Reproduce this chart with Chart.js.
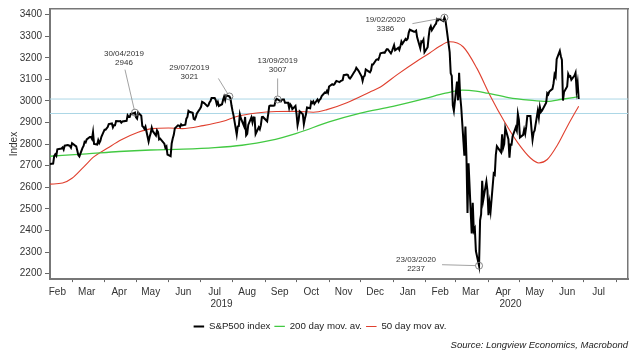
<!DOCTYPE html>
<html><head><meta charset="utf-8">
<script src="https://cdn.jsdelivr.net/npm/chart.js@4/dist/chart.umd.min.js"></script>
<style>html,body{margin:0;padding:0;background:#fff}#wrap{width:640px;height:360px}</style>
</head><body><div id="wrap"><canvas id="c" width="640" height="360"></canvas></div>
<script>
// ---------------- data ----------------
const spxDates = [
'2019-02-08','2019-02-11','2019-02-12','2019-02-13','2019-02-14','2019-02-15','2019-02-19','2019-02-20','2019-02-21','2019-02-22','2019-02-25','2019-02-26','2019-02-27','2019-02-28',
'2019-03-01','2019-03-04','2019-03-05','2019-03-06','2019-03-07','2019-03-08','2019-03-11','2019-03-12','2019-03-13','2019-03-14','2019-03-15','2019-03-18','2019-03-19','2019-03-20','2019-03-21','2019-03-22','2019-03-25','2019-03-26','2019-03-27','2019-03-28','2019-03-29',
'2019-04-01','2019-04-02','2019-04-03','2019-04-04','2019-04-05','2019-04-08','2019-04-09','2019-04-10','2019-04-11','2019-04-12','2019-04-15','2019-04-16','2019-04-17','2019-04-18','2019-04-22','2019-04-23','2019-04-24','2019-04-25','2019-04-26','2019-04-29','2019-04-30',
'2019-05-01','2019-05-02','2019-05-03','2019-05-06','2019-05-07','2019-05-08','2019-05-09','2019-05-10','2019-05-13','2019-05-14','2019-05-15','2019-05-16','2019-05-17','2019-05-20','2019-05-21','2019-05-22','2019-05-23','2019-05-24','2019-05-28','2019-05-29','2019-05-30','2019-05-31',
'2019-06-03','2019-06-04','2019-06-05','2019-06-06','2019-06-07','2019-06-10','2019-06-11','2019-06-12','2019-06-13','2019-06-14','2019-06-17','2019-06-18','2019-06-19','2019-06-20','2019-06-21','2019-06-24','2019-06-25','2019-06-26','2019-06-27','2019-06-28',
'2019-07-01','2019-07-02','2019-07-03','2019-07-05','2019-07-08','2019-07-09','2019-07-10','2019-07-11','2019-07-12','2019-07-15','2019-07-16','2019-07-17','2019-07-18','2019-07-19','2019-07-22','2019-07-23','2019-07-24','2019-07-25','2019-07-26','2019-07-29','2019-07-30','2019-07-31',
'2019-08-01','2019-08-02','2019-08-05','2019-08-06','2019-08-07','2019-08-08','2019-08-09','2019-08-12','2019-08-13','2019-08-14','2019-08-15','2019-08-16','2019-08-19','2019-08-20','2019-08-21','2019-08-22','2019-08-23','2019-08-26','2019-08-27','2019-08-28','2019-08-29','2019-08-30',
'2019-09-03','2019-09-04','2019-09-05','2019-09-06','2019-09-09','2019-09-10','2019-09-11','2019-09-12','2019-09-13','2019-09-16','2019-09-17','2019-09-18','2019-09-19','2019-09-20','2019-09-23','2019-09-24','2019-09-25','2019-09-26','2019-09-27','2019-09-30',
'2019-10-01','2019-10-02','2019-10-03','2019-10-04','2019-10-07','2019-10-08','2019-10-09','2019-10-10','2019-10-11','2019-10-14','2019-10-15','2019-10-16','2019-10-17','2019-10-18','2019-10-21','2019-10-22','2019-10-23','2019-10-24','2019-10-25','2019-10-28','2019-10-29','2019-10-30','2019-10-31',
'2019-11-01','2019-11-04','2019-11-05','2019-11-06','2019-11-07','2019-11-08','2019-11-11','2019-11-12','2019-11-13','2019-11-14','2019-11-15','2019-11-18','2019-11-19','2019-11-20','2019-11-21','2019-11-22','2019-11-25','2019-11-26','2019-11-27','2019-11-29',
'2019-12-02','2019-12-03','2019-12-04','2019-12-05','2019-12-06','2019-12-09','2019-12-10','2019-12-11','2019-12-12','2019-12-13','2019-12-16','2019-12-17','2019-12-18','2019-12-19','2019-12-20','2019-12-23','2019-12-24','2019-12-26','2019-12-27','2019-12-30','2019-12-31',
'2020-01-02','2020-01-03','2020-01-06','2020-01-07','2020-01-08','2020-01-09','2020-01-10','2020-01-13','2020-01-14','2020-01-15','2020-01-16','2020-01-17','2020-01-21','2020-01-22','2020-01-23','2020-01-24','2020-01-27','2020-01-28','2020-01-29','2020-01-30','2020-01-31',
'2020-02-03','2020-02-04','2020-02-05','2020-02-06','2020-02-07','2020-02-10','2020-02-11','2020-02-12','2020-02-13','2020-02-14','2020-02-18','2020-02-19','2020-02-20','2020-02-21','2020-02-24','2020-02-25','2020-02-26','2020-02-27','2020-02-28',
'2020-03-02','2020-03-03','2020-03-04','2020-03-05','2020-03-06','2020-03-09','2020-03-10','2020-03-11','2020-03-12','2020-03-13','2020-03-16','2020-03-17','2020-03-18','2020-03-19','2020-03-20','2020-03-23','2020-03-24','2020-03-25','2020-03-26','2020-03-27','2020-03-30','2020-03-31',
'2020-04-01','2020-04-02','2020-04-03','2020-04-06','2020-04-07','2020-04-08','2020-04-09','2020-04-13','2020-04-14','2020-04-15','2020-04-16','2020-04-17','2020-04-20','2020-04-21','2020-04-22','2020-04-23','2020-04-24','2020-04-27','2020-04-28','2020-04-29','2020-04-30',
'2020-05-01','2020-05-04','2020-05-05','2020-05-06','2020-05-07','2020-05-08','2020-05-11','2020-05-12','2020-05-13','2020-05-14','2020-05-15','2020-05-18','2020-05-19','2020-05-20','2020-05-21','2020-05-22','2020-05-26','2020-05-27','2020-05-28','2020-05-29',
'2020-06-01','2020-06-02','2020-06-03','2020-06-04','2020-06-05','2020-06-08','2020-06-09','2020-06-10','2020-06-11','2020-06-12','2020-06-15','2020-06-16','2020-06-17','2020-06-18','2020-06-19','2020-06-22','2020-06-23','2020-06-24','2020-06-25','2020-06-26'
];
const spxValues = [
2708,2710,2745,2753,2746,2776,2780,2785,2775,2793,2796,2794,2792,2784,
2804,2793,2790,2771,2749,2743,2783,2792,2811,2808,2822,2833,2833,2824,2855,2801,2798,2818,2805,2815,2834,
2867,2867,2873,2879,2893,2896,2878,2888,2888,2907,2906,2907,2900,2905,2908,2934,2927,2926,2940,2943,2946,
2924,2918,2946,2932,2884,2879,2871,2881,2812,2834,2851,2876,2860,2840,2864,2856,2822,2826,2802,2783,2789,2752,
2744,2803,2826,2843,2873,2887,2886,2880,2892,2887,2890,2918,2926,2954,2950,2945,2917,2914,2925,2942,
2964,2973,2996,2990,2976,2980,2993,3000,3014,3014,3004,2984,2995,2977,2985,3005,3020,3004,3026,3021,3013,2980,
2954,2932,2845,2882,2884,2938,2919,2883,2926,2841,2848,2889,2924,2901,2924,2923,2847,2878,2869,2888,2925,2926,
2906,2938,2976,2979,2978,2979,3001,3010,3007,2998,3006,3007,3007,2992,2992,2967,2985,2978,2962,2977,
2940,2888,2911,2952,2939,2893,2919,2938,2970,2966,2996,2990,2998,2986,3007,2996,3005,3010,3023,3039,3037,3047,3038,
3067,3078,3075,3077,3085,3093,3087,3092,3094,3097,3120,3122,3120,3108,3104,3110,3134,3141,3154,3141,
3114,3093,3113,3117,3146,3136,3133,3142,3169,3169,3191,3193,3191,3205,3221,3224,3223,3240,3240,3221,3231,
3258,3235,3246,3237,3253,3275,3265,3288,3283,3289,3317,3330,3321,3322,3326,3295,3244,3276,3273,3284,3226,
3249,3298,3335,3346,3328,3352,3358,3379,3374,3380,3370,3386,3373,3338,3226,3128,3116,2979,2954,
3090,3003,3130,3024,2972,2747,2882,2741,2481,2711,2386,2529,2398,2409,2305,2237,2447,2476,2630,2541,2627,2585,
2471,2527,2489,2664,2659,2750,2790,2762,2846,2783,2800,2875,2823,2737,2799,2798,2837,2878,2863,2940,2912,
2831,2843,2868,2848,2881,2930,2930,2870,2820,2853,2864,2954,2923,2972,2949,2955,2992,3036,3030,3044,
3056,3081,3123,3112,3194,3232,3207,3190,3002,3041,3067,3125,3113,3115,3098,3118,3131,3050,3084,3009
];
const ma200Dates = ['2019-02-08','2019-03-15','2019-04-15','2019-05-15','2019-06-15','2019-07-15','2019-08-10','2019-09-05','2019-10-01','2019-11-01','2019-12-01','2020-01-01','2020-02-01','2020-02-20','2020-03-07','2020-03-20','2020-03-31','2020-04-20','2020-05-10','2020-05-27','2020-06-10','2020-06-26'];
const ma200Values = [2744,2755,2766,2773,2777,2784,2795,2816,2850,2903,2944,2975,3012,3036,3050,3046,3036,3016,3004,2998,3008,3020];
const ma50Dates = ['2019-02-08','2019-02-20','2019-03-01','2019-03-12','2019-03-22','2019-04-04','2019-04-17','2019-05-03','2019-05-16','2019-06-01','2019-06-14','2019-07-04','2019-07-23','2019-08-05','2019-08-24','2019-09-12','2019-10-01','2019-10-17','2019-10-30','2019-11-18','2019-12-10','2019-12-20','2020-01-05','2020-01-24','2020-02-05','2020-02-14','2020-02-24','2020-03-08','2020-03-21','2020-04-03','2020-04-16','2020-04-29','2020-05-11','2020-05-19','2020-05-27','2020-06-06','2020-06-16','2020-06-26'];
const ma50Values = [2615,2620,2642,2694,2742,2782,2820,2855,2872,2875,2872,2886,2906,2928,2944,2951,2952,2948,2960,2992,3042,3065,3122,3185,3222,3252,3274,3250,3151,3021,2906,2806,2736,2713,2729,2798,2890,2976];
const refLevels = [3009, 2942];
const annDates = ['2019-04-30','2019-07-29','2019-09-13','2020-02-19','2020-03-23'];
const annValues = [2946, 3021, 3007, 3386, 2237];
const annTexts = [['30/04/2019','2946'],['29/07/2019','3021'],['13/09/2019','3007'],['19/02/2020','3386'],['23/03/2020','2237']];
const yTicks = [2200,2300,2400,2500,2600,2700,2800,2900,3000,3100,3200,3300,3400];
const labelMonths = ['2019-02','2019-03','2019-04','2019-05','2019-06','2019-07','2019-08','2019-09','2019-10','2019-11','2019-12','2020-01','2020-02','2020-03','2020-04','2020-05','2020-06','2020-07'];
const monthLabels = ['Feb','Mar','Apr','May','Jun','Jul','Aug','Sep','Oct','Nov','Dec','Jan','Feb','Mar','Apr','May','Jun','Jul'];
const tickMonths = ['2019-03','2019-04','2019-05','2019-06','2019-07','2019-08','2019-09','2019-10','2019-11','2019-12','2020-01','2020-02','2020-03','2020-04','2020-05','2020-06','2020-07','2020-08'];
const yearLabels = ['2019','2020'];
const xRange = ['2019-02-08','2020-08-12'];
const yRange = [2175, 3426];
const seriesNames = ['S&P500 index','200 day mov. av.','50 day mov av.'];

// ---------------- helpers ----------------
const day = s => { const p = s.split('-').map(Number); return Date.UTC(p[0], p[1]-1, p[2] || 1) / 86400000; };
const pts = (ds, vs) => ds.map((d, i) => ({x: day(d), y: vs[i]}));
const xMin = day(xRange[0]), xMax = day(xRange[1]);
const yearBoundary = day('2020-01-01');
const midTicks = labelMonths.map((m, i) => ({value: day(m + '-15'), label: monthLabels[i]}));
const yearTicks = [ {value: (xMin + yearBoundary) / 2, label: ['', yearLabels[0]]},
                    {value: (yearBoundary + xMax) / 2, label: ['', yearLabels[1]]} ];
const labelTicks = midTicks.concat(yearTicks);

const annLayout = [
  {tx:-11, ty:-59, lx:-10, ly:-43},
  {tx:-40, ty:-29, lx:-11, ly:-18},
  {tx:0,   ty:-39, lx:0,   ly:-21},
  {tx:-59, ty:2,   lx:-32, ly:6},
  {tx:-63, ty:-6,  lx:-37, ly:-1}
];

const FONT = "'Liberation Sans', Arial, Helvetica, sans-serif";
Chart.defaults.font.family = FONT;
Chart.defaults.font.size = 10;
Chart.defaults.color = '#333';

const AXIS_COLOR = '#777';

const annotationPlugin = {
  id: 'callouts',
  afterDatasetsDraw(chart) {
    const ctx = chart.ctx, xs = chart.scales.x, ys = chart.scales.y;
    ctx.save();
    annDates.forEach((d, i) => {
      const px = xs.getPixelForValue(day(d)), py = ys.getPixelForValue(annValues[i]);
      const L = annLayout[i];
      const sx = px + L.lx, sy = py + L.ly;
      const dx = px - sx, dy = py - sy, len = Math.hypot(dx, dy), r = 3.5;
      ctx.strokeStyle = '#8a8a8a'; ctx.lineWidth = 0.8;
      ctx.beginPath(); ctx.moveTo(sx, sy); ctx.lineTo(px - dx/len*r, py - dy/len*r); ctx.stroke();
      ctx.fillStyle = '#333'; ctx.font = '8px ' + FONT; ctx.textAlign = 'center'; ctx.textBaseline = 'middle';
      annTexts[i].forEach((t, k) => ctx.fillText(t, px + L.tx, py + L.ty + k * 9.5));
    });
    ctx.restore();
  }
};

new Chart(document.getElementById('c'), {
  type: 'line',
  data: {
    datasets: [
      { label: 'points', data: pts(annDates, annValues), showLine: false, pointRadius: 3.5, pointBorderWidth: 0.9,
        pointBorderColor: '#777', pointBackgroundColor: 'rgba(0,0,0,0)', borderColor: '#777' },
      { label: seriesNames[0], data: pts(spxDates, spxValues), borderColor: '#000', backgroundColor: '#000', borderWidth: 2, pointRadius: 0, tension: 0 },
      { label: seriesNames[1], data: pts(ma200Dates, ma200Values), borderColor: '#42c942', backgroundColor: '#42c942', borderWidth: 1.3, pointRadius: 0, cubicInterpolationMode: 'monotone' },
      { label: seriesNames[2], data: pts(ma50Dates, ma50Values), borderColor: '#e0402f', backgroundColor: '#e0402f', borderWidth: 1.1, pointRadius: 0, cubicInterpolationMode: 'monotone' },
      { label: 'ref1', data: [{x:xMin, y:refLevels[0]}, {x:xMax, y:refLevels[0]}], borderColor: '#acd7e6', borderWidth: 1, pointRadius: 0 },
      { label: 'ref2', data: [{x:xMin, y:refLevels[1]}, {x:xMax, y:refLevels[1]}], borderColor: '#acd7e6', borderWidth: 1, pointRadius: 0 }
    ]
  },
  options: {
    responsive: false, animation: false, devicePixelRatio: 1,
    layout: { padding: { top: 7, left: 0, right: 0, bottom: 9.3 } },
    plugins: {
      tooltip: { enabled: false },
      legend: {
        position: 'bottom', align: 'center',
        labels: { filter: it => seriesNames.includes(it.text), usePointStyle: true, pointStyle: 'line', pointStyleWidth: 10.5,
                  boxHeight: 10, padding: 4, color: '#222', font: { size: 9.7 } }
      },
      subtitle: { display: true, text: 'Source: Longview Economics, Macrobond', position: 'bottom', align: 'end', fullSize: false,
                  color: '#222', font: { size: 9.5, style: 'italic' }, padding: { top: -2, bottom: 0 } }
    },
    scales: {
      x: { type: 'linear', position: 'bottom', min: xMin, max: xMax, weight: 0,
           afterBuildTicks: a => { a.ticks = tickMonths.map(m => ({value: day(m + '-01')})).filter(t => t.value >= xMin && t.value <= xMax); },
           ticks: { display: false },
           grid: { drawOnChartArea: false, drawTicks: true, tickLength: 3, tickColor: '#666', tickWidth: 1 },
           border: { display: true, color: AXIS_COLOR, width: 2 },
           afterFit: a => { a.height = 3; } },
      xm: { type: 'linear', position: 'bottom', min: xMin, max: xMax, weight: 1,
            afterBuildTicks: a => { a.ticks = labelTicks.map(t => ({value: t.value})); },
            ticks: { autoSkip: false, maxRotation: 0, padding: 3.4, color: '#333', font: { size: 10, lineHeight: 1.26 },
                     callback: (v, i) => labelTicks[i].label },
            grid: { display: false, drawTicks: false },
            border: { display: false },
            afterFit: a => { a.height = 35.5; } },
      xTop: { type: 'linear', position: 'top', ticks: { display: false },
              grid: { drawOnChartArea: false, drawTicks: false }, border: { display: true, color: AXIS_COLOR, width: 1.5 } },
      y: { type: 'linear', position: 'left', min: yRange[0], max: yRange[1],
           afterBuildTicks: a => { a.ticks = yTicks.map(v => ({value: v})); },
           ticks: { padding: 3, color: '#333', font: { size: 10 }, callback: v => String(v) },
           grid: { drawOnChartArea: false, drawTicks: true, tickLength: 5, tickColor: '#666' },
           border: { display: true, color: AXIS_COLOR, width: 2 },
           title: { display: true, text: 'Index', color: '#333', font: { size: 10 }, padding: { top: 8, bottom: 0 } },
           afterFit: a => { a.width = 50; } },
      yRight: { type: 'linear', position: 'right', ticks: { display: false },
                grid: { drawOnChartArea: false, drawTicks: false }, border: { display: true, color: AXIS_COLOR, width: 1.5 },
                afterFit: a => { a.width = 12; } }
    }
  },
  plugins: [annotationPlugin]
});
</script>
</body></html>
